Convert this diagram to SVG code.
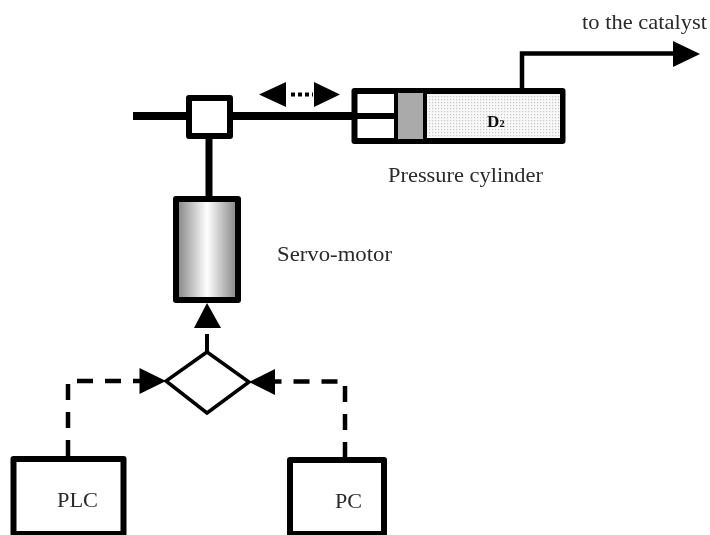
<svg xmlns="http://www.w3.org/2000/svg" width="710" height="535" viewBox="0 0 710 535">
<style>
text{font-family:"Liberation Serif","Times New Roman",serif;fill:#2a2a2a;font-size:21px}
.b{fill:#fff;stroke:#000;stroke-width:6;stroke-linejoin:round}
.l{fill:none;stroke:#000}
.d{fill:none;stroke:#000;stroke-width:4.5;stroke-dasharray:16 12}
.h{fill:#000}
</style>
<defs>
<linearGradient id="g" x1="0" x2="1" y1="0" y2="0"><stop offset="0" stop-color="#808080"/><stop offset="0.5" stop-color="#fff"/><stop offset="1" stop-color="#808080"/></linearGradient>
<pattern id="dots" width="3" height="3" patternUnits="userSpaceOnUse"><rect width="3" height="3" fill="#f8f8f8"/><rect width="1.2" height="1.2" fill="#c8c8c8"/></pattern>
<filter id="soft" filterUnits="userSpaceOnUse" x="0" y="0" width="710" height="535"><feGaussianBlur stdDeviation="0.5"/></filter>
</defs>
<rect width="710" height="535" fill="#fff"/>
<g filter="url(#soft)">
<g id="connectors">
<path class="l" stroke-width="8" d="M133 116H355"/>
<path class="l" stroke-width="7" d="M209 136V199"/>
<path class="l" stroke-width="4.500" d="M522 90V53.500H676"/>
<path class="h" d="M673 41L700 54L673 67Z"/>
<path class="l" stroke-width="4" stroke-dasharray="4 3" d="M291 94.500H313"/>
<path class="h" d="M259 94.500L286 82V107Z"/>
<path class="h" d="M340 94.500L314 82V107Z"/>
<path class="h" d="M207 303L221 328H194Z"/>
<path class="l" stroke-width="4" d="M207 334V352"/>
<path class="d" d="M68 456V381H140"/>
<path class="h" d="M166 381L139.500 368V394Z"/>
<path class="d" d="M345 458V381.500H275"/>
<path class="h" d="M249 382L275 369V395Z"/>
</g>
<g id="joint"><rect class="b" x="189" y="98" width="41" height="38"/></g>
<g id="cylinder">
<rect class="b" x="354.500" y="91" width="208" height="50"/>
<rect x="423" y="94" width="137" height="44" fill="url(#dots)"/>
<path class="l" stroke-width="6" d="M352 116H396"/>
<rect x="396" y="91" width="29" height="50" fill="#aaa" stroke="#000" stroke-width="4"/>
<text x="487" y="127" style="font-weight:bold;font-size:17px;fill:#111">D<tspan font-size="11">2</tspan></text>
</g>
<g id="motor"><rect x="176" y="199" width="62" height="101" fill="url(#g)" stroke="#000" stroke-width="6" stroke-linejoin="round"/></g>
<g id="mixer"><path d="M207 352L249 382L207 413L166 381Z" fill="#fff" stroke="#000" stroke-width="3.500"/></g>
<g id="plc"><rect class="b" x="13.500" y="459" width="110" height="75"/><text x="57" y="507" textLength="41" lengthAdjust="spacingAndGlyphs">PLC</text></g>
<g id="pc"><rect class="b" x="290" y="460" width="94" height="74"/><text x="335" y="508" textLength="27" lengthAdjust="spacingAndGlyphs">PC</text></g>
<text x="582" y="29" textLength="125" lengthAdjust="spacingAndGlyphs">to the catalyst</text>
<text x="388" y="182" textLength="155" lengthAdjust="spacingAndGlyphs">Pressure cylinder</text>
<text x="277" y="261" textLength="115" lengthAdjust="spacingAndGlyphs">Servo-motor</text>
</g>
</svg>
